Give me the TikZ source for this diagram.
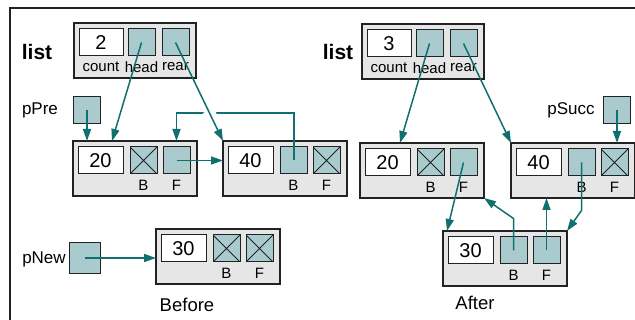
\documentclass[tikz,border=0pt]{standalone}
\usepackage{fontspec}
\setmainfont{Liberation Sans}
\usetikzlibrary{arrows.meta,calc}
\definecolor{tealline}{HTML}{10706F}
\definecolor{ptrfill}{HTML}{AACBCE}
\definecolor{nodebg}{HTML}{E6E6E6}
\definecolor{edgecol}{HTML}{222222}
\tikzset{
 outerbox/.style={draw=edgecol, fill=nodebg, line width=1.1pt, minimum width=124pt, minimum height=55pt, inner sep=0pt, outer sep=0pt, anchor=north west},
 hdrbox/.style={outerbox, minimum width=122pt},
 databox/.style={draw=edgecol, fill=white, line width=1pt, minimum width=45pt, minimum height=27pt, inner sep=0pt, outer sep=0pt, anchor=north west, font=\fontsize{20}{24}\selectfont},
 ptr/.style={draw=edgecol, fill=ptrfill, line width=1pt, minimum width=27pt, minimum height=27pt, inner sep=0pt, outer sep=0pt, anchor=north west},
 ptrx/.style={ptr, path picture={\draw[edgecol, line width=0.9pt] (path picture bounding box.north west) -- (path picture bounding box.south east) (path picture bounding box.south west) -- (path picture bounding box.north east);}},
 lab/.style={font=\fontsize{15}{18}\selectfont, inner sep=0pt},
 vname/.style={font=\fontsize{17}{20}\selectfont, inner sep=0pt},
 ltitle/.style={font=\bfseries\fontsize{21}{24}\selectfont, inner sep=0pt},
 captext/.style={font=\fontsize{18.5}{22}\selectfont, inner sep=0pt},
 conn/.style={draw=tealline, line width=1.5pt, -{Triangle[length=12pt,width=8pt]}},
 frameline/.style={draw=edgecol, line width=1.2pt},
}
\newcommand\listnode[6]{%
 \node[outerbox] (#1) at (#2,#3) {};
 \node[databox] (#1d) at ([xshift=5pt,yshift=-6pt]#1.north west) {#4};
 \node[#5] (#1b) at ([xshift=57pt,yshift=-6pt]#1.north west) {};
 \node[#6] (#1f) at ([xshift=90pt,yshift=-6pt]#1.north west) {};
 \node[lab] (#1lb) at ([yshift=-11pt]#1b.south) {B};
 \node[lab] (#1lf) at ([yshift=-11pt]#1f.south) {F};
}
\newcommand\hdrnode[4]{%
 \node[hdrbox] (#1) at (#2,#3) {};
 \node[databox, minimum width=44pt] (#1c) at ([xshift=5pt,yshift=-6pt]#1.north west) {#4};
 \node[ptr] (#1h) at ([xshift=54pt,yshift=-6pt]#1.north west) {};
 \node[ptr] (#1r) at ([xshift=88pt,yshift=-6pt]#1.north west) {};
 \node[lab] (#1lc) at ([yshift=-11pt]#1c.south) {count};
 \node[lab] (#1lh) at ([yshift=-11pt]#1h.south) {head};
 \node[lab] (#1lr) at ([yshift=-11pt]#1r.south) {rear};
}
\begin{document}
\begin{tikzpicture}[x=1pt,y=-1pt]
\useasboundingbox (0,0) rectangle (635,320);
\fill[white] (0,0) rectangle (635,320);
\draw[frameline] (10,330) -- (10,8) -- (640,8);
% ---------- Before ----------
\node[ltitle] (Llist) at (37,52) {list};
\hdrnode{L}{74}{23}{2}
\node[vname] (pPretxt) at (40,110) {pPre};
\node[ptr, anchor=center] (pPre) at (87,110) {};
\listnode{A20}{73}{141}{20}{ptrx}{ptr}
\listnode{A40}{223}{141}{40}{ptr}{ptrx}
\node[vname] (pNewtxt) at (44,259) {pNew};
\node[ptr, anchor=center, minimum width=31pt, minimum height=31pt] (pNew) at (85,258) {};
\listnode{B30}{156}{229}{30}{ptrx}{ptrx}
\node[captext] (before) at (187,305) {Before};
% ---------- After ----------
\node[ltitle] (Rlist) at (338,52) {list};
\hdrnode{R}{362}{24}{3}
\node[vname] (pSucctxt) at (571,110) {pSucc};
\node[ptr, anchor=center] (pSucc) at (617,110) {};
\listnode{R20}{360}{143}{20}{ptrx}{ptr}
\listnode{R40}{511}{143}{40}{ptr}{ptrx}
\listnode{R30}{443}{231}{30}{ptr}{ptr}
\node[captext] (after) at (475,303) {After};
% ---------- connectors: Before ----------
\draw[conn] (Lh.center) -- ([xshift=39pt]A20.north west);
\draw[conn] (pPre.center) -- (pPre.center |- A20.north);
\draw[conn] (A20f.center) -- (A20f.center -| A40.west);
\draw[conn] ([xshift=0.5pt]A40b.center) -- ++(0,-47.5) -| (A20f.center |- A20.north);
\draw[white, line width=12pt] ($(Lr.center)!0.69!(A40.north west)$) -- ($(Lr.center)!0.75!(A40.north west)$);
\draw[conn] (Lr.center) -- (A40.north west);
\draw[conn] (pNew.center) -- (pNew.center -| B30.west);
% ---------- connectors: After ----------
\draw[conn] (Rh.center) -- ([xshift=40pt]R20.north west);
\draw[conn] (Rr.center) -- (R40.north west);
\draw[conn] (pSucc.center) -- (pSucc.center |- R40.north);
\draw[conn] (R20f.center) -- ([xshift=4pt]R30.north west);
\draw[conn] (R30b.center) -- ++(0,-32) -- (R20.south east);
\draw[conn] (R30f.center) -- (R30f.center |- R40.south);
\draw[conn] (R40b.center) -- ++(0,48) -- (R30.north east);
\end{tikzpicture}
\end{document}
